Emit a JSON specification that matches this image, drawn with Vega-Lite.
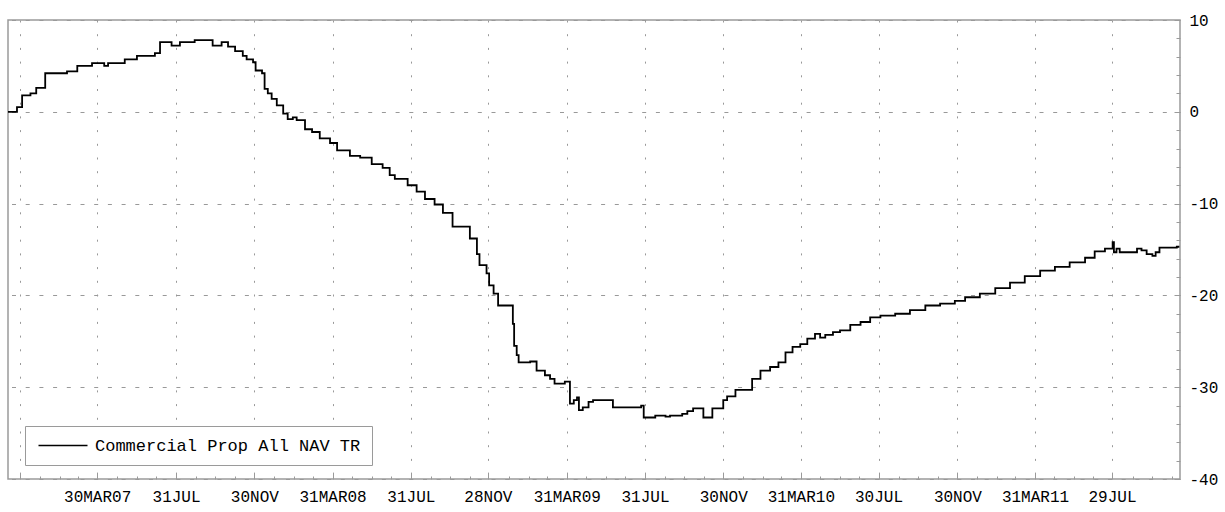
{
  "$schema": "https://vega.github.io/schema/vega-lite/v6.json",
  "width": 1172,
  "height": 459,
  "autosize": {"type": "none"},
  "padding": {"left": 8, "top": 20, "right": 45, "bottom": 33},
  "background": "white",
  "config": {"view": {"stroke": "#9a9a9a", "strokeWidth": 1.5}, "font": "Liberation Mono"},
  "data": {"values": [
    {"d": "2006-11-11", "v": 0.0}, {"d": "2006-11-25", "v": 0.5}, {"d": "2006-12-03", "v": 1.8}, {"d": "2006-12-16", "v": 2.0},
    {"d": "2006-12-25", "v": 2.6}, {"d": "2007-01-08", "v": 4.2}, {"d": "2007-02-11", "v": 4.4}, {"d": "2007-02-27", "v": 5.0},
    {"d": "2007-03-22", "v": 5.3}, {"d": "2007-04-10", "v": 5.0}, {"d": "2007-04-16", "v": 5.3}, {"d": "2007-05-12", "v": 5.7},
    {"d": "2007-05-31", "v": 6.1}, {"d": "2007-06-28", "v": 6.4}, {"d": "2007-07-06", "v": 7.6}, {"d": "2007-07-24", "v": 7.2},
    {"d": "2007-08-06", "v": 7.6}, {"d": "2007-08-29", "v": 7.8}, {"d": "2007-09-26", "v": 7.2}, {"d": "2007-10-10", "v": 7.6},
    {"d": "2007-10-20", "v": 7.1}, {"d": "2007-10-31", "v": 6.6}, {"d": "2007-11-12", "v": 6.1}, {"d": "2007-11-18", "v": 5.7},
    {"d": "2007-11-28", "v": 5.4}, {"d": "2007-12-02", "v": 4.5}, {"d": "2007-12-12", "v": 4.2}, {"d": "2007-12-16", "v": 2.5},
    {"d": "2007-12-21", "v": 2.0}, {"d": "2007-12-27", "v": 1.4}, {"d": "2008-01-04", "v": 0.7}, {"d": "2008-01-14", "v": -0.2},
    {"d": "2008-01-21", "v": -0.8}, {"d": "2008-01-29", "v": -0.6}, {"d": "2008-02-04", "v": -0.9}, {"d": "2008-02-17", "v": -1.9},
    {"d": "2008-02-28", "v": -2.2}, {"d": "2008-03-11", "v": -2.9}, {"d": "2008-03-27", "v": -3.4}, {"d": "2008-04-07", "v": -4.2},
    {"d": "2008-04-27", "v": -4.8}, {"d": "2008-05-13", "v": -5.0}, {"d": "2008-05-31", "v": -5.7}, {"d": "2008-06-17", "v": -6.1},
    {"d": "2008-06-28", "v": -6.9}, {"d": "2008-07-06", "v": -7.3}, {"d": "2008-07-26", "v": -8.0}, {"d": "2008-08-09", "v": -8.7},
    {"d": "2008-08-22", "v": -9.5}, {"d": "2008-09-06", "v": -10.1}, {"d": "2008-09-19", "v": -11.0}, {"d": "2008-10-04", "v": -12.5},
    {"d": "2008-10-31", "v": -13.8}, {"d": "2008-11-11", "v": -15.5}, {"d": "2008-11-15", "v": -16.7}, {"d": "2008-11-26", "v": -17.6},
    {"d": "2008-11-30", "v": -18.9}, {"d": "2008-12-07", "v": -19.8}, {"d": "2008-12-14", "v": -21.1}, {"d": "2009-01-06", "v": -23.1},
    {"d": "2009-01-08", "v": -25.5}, {"d": "2009-01-12", "v": -26.5}, {"d": "2009-01-15", "v": -27.3}, {"d": "2009-02-02", "v": -27.2},
    {"d": "2009-02-12", "v": -28.2}, {"d": "2009-02-25", "v": -28.7}, {"d": "2009-03-05", "v": -29.1}, {"d": "2009-03-12", "v": -29.6},
    {"d": "2009-03-28", "v": -29.4}, {"d": "2009-04-05", "v": -31.8}, {"d": "2009-04-11", "v": -31.4}, {"d": "2009-04-16", "v": -31.1},
    {"d": "2009-04-19", "v": -32.5}, {"d": "2009-04-25", "v": -32.2}, {"d": "2009-05-04", "v": -31.6}, {"d": "2009-05-11", "v": -31.4},
    {"d": "2009-06-11", "v": -32.2}, {"d": "2009-07-25", "v": -32.0}, {"d": "2009-07-29", "v": -33.3}, {"d": "2009-08-16", "v": -33.1},
    {"d": "2009-09-01", "v": -33.2}, {"d": "2009-09-08", "v": -33.1}, {"d": "2009-09-27", "v": -32.9}, {"d": "2009-10-05", "v": -32.6},
    {"d": "2009-10-14", "v": -32.3}, {"d": "2009-10-30", "v": -33.3}, {"d": "2009-11-13", "v": -32.3}, {"d": "2009-11-30", "v": -31.4},
    {"d": "2009-12-06", "v": -31.0}, {"d": "2009-12-19", "v": -30.3}, {"d": "2010-01-14", "v": -29.1}, {"d": "2010-01-27", "v": -28.2},
    {"d": "2010-02-11", "v": -27.8}, {"d": "2010-02-24", "v": -27.3}, {"d": "2010-03-07", "v": -26.2}, {"d": "2010-03-18", "v": -25.6},
    {"d": "2010-03-30", "v": -25.3}, {"d": "2010-04-10", "v": -24.7}, {"d": "2010-04-22", "v": -24.2}, {"d": "2010-04-30", "v": -24.6},
    {"d": "2010-05-08", "v": -24.3}, {"d": "2010-05-20", "v": -24.0}, {"d": "2010-05-31", "v": -23.8}, {"d": "2010-06-16", "v": -23.2},
    {"d": "2010-07-02", "v": -22.9}, {"d": "2010-07-17", "v": -22.4}, {"d": "2010-08-02", "v": -22.2}, {"d": "2010-08-25", "v": -22.0},
    {"d": "2010-09-17", "v": -21.6}, {"d": "2010-10-11", "v": -21.1}, {"d": "2010-11-03", "v": -20.9}, {"d": "2010-11-26", "v": -20.6},
    {"d": "2010-12-12", "v": -20.2}, {"d": "2011-01-04", "v": -19.8}, {"d": "2011-01-28", "v": -19.2}, {"d": "2011-02-20", "v": -18.6},
    {"d": "2011-03-15", "v": -17.9}, {"d": "2011-04-08", "v": -17.3}, {"d": "2011-05-01", "v": -16.9}, {"d": "2011-05-24", "v": -16.4},
    {"d": "2011-06-17", "v": -15.9}, {"d": "2011-07-02", "v": -15.2}, {"d": "2011-07-18", "v": -14.9}, {"d": "2011-07-30", "v": -14.2},
    {"d": "2011-08-01", "v": -15.3}, {"d": "2011-08-05", "v": -14.9}, {"d": "2011-08-10", "v": -15.3}, {"d": "2011-09-06", "v": -14.9},
    {"d": "2011-09-13", "v": -15.1}, {"d": "2011-09-21", "v": -15.5}, {"d": "2011-09-30", "v": -15.7}, {"d": "2011-10-05", "v": -15.3},
    {"d": "2011-10-11", "v": -14.8}, {"d": "2011-11-07", "v": -14.7}, {"d": "2011-11-11", "v": -14.7}
  ]},
  "mark": {"type": "line", "interpolate": "step-after", "strokeWidth": 1.8},
  "encoding": {
    "x": {
      "field": "d", "type": "temporal",
      "scale": {"type": "utc", "domain": [{"year": 2006, "month": 11, "date": 11, "utc": true}, {"year": 2011, "month": 11, "date": 12, "utc": true}]},
      "axis": {
        "title": null,
        "values": [
          {"year": 2006, "month": 11, "date": 30, "utc": true}, {"year": 2006, "month": 12, "date": 31, "utc": true},
          {"year": 2007, "month": 1, "date": 31, "utc": true}, {"year": 2007, "month": 2, "date": 28, "utc": true}, {"year": 2007, "month": 3, "date": 30, "utc": true},
          {"year": 2007, "month": 4, "date": 30, "utc": true}, {"year": 2007, "month": 5, "date": 31, "utc": true}, {"year": 2007, "month": 6, "date": 30, "utc": true},
          {"year": 2007, "month": 7, "date": 31, "utc": true}, {"year": 2007, "month": 8, "date": 31, "utc": true}, {"year": 2007, "month": 9, "date": 30, "utc": true},
          {"year": 2007, "month": 10, "date": 31, "utc": true}, {"year": 2007, "month": 11, "date": 30, "utc": true}, {"year": 2007, "month": 12, "date": 31, "utc": true},
          {"year": 2008, "month": 1, "date": 31, "utc": true}, {"year": 2008, "month": 2, "date": 29, "utc": true}, {"year": 2008, "month": 3, "date": 31, "utc": true},
          {"year": 2008, "month": 4, "date": 30, "utc": true}, {"year": 2008, "month": 5, "date": 31, "utc": true}, {"year": 2008, "month": 6, "date": 30, "utc": true},
          {"year": 2008, "month": 7, "date": 31, "utc": true}, {"year": 2008, "month": 8, "date": 31, "utc": true}, {"year": 2008, "month": 9, "date": 30, "utc": true},
          {"year": 2008, "month": 10, "date": 31, "utc": true}, {"year": 2008, "month": 11, "date": 28, "utc": true}, {"year": 2008, "month": 12, "date": 31, "utc": true},
          {"year": 2009, "month": 1, "date": 31, "utc": true}, {"year": 2009, "month": 2, "date": 28, "utc": true}, {"year": 2009, "month": 3, "date": 31, "utc": true},
          {"year": 2009, "month": 4, "date": 30, "utc": true}, {"year": 2009, "month": 5, "date": 31, "utc": true}, {"year": 2009, "month": 6, "date": 30, "utc": true},
          {"year": 2009, "month": 7, "date": 31, "utc": true}, {"year": 2009, "month": 8, "date": 31, "utc": true}, {"year": 2009, "month": 9, "date": 30, "utc": true},
          {"year": 2009, "month": 10, "date": 31, "utc": true}, {"year": 2009, "month": 11, "date": 30, "utc": true}, {"year": 2009, "month": 12, "date": 31, "utc": true},
          {"year": 2010, "month": 1, "date": 31, "utc": true}, {"year": 2010, "month": 2, "date": 28, "utc": true}, {"year": 2010, "month": 3, "date": 31, "utc": true},
          {"year": 2010, "month": 4, "date": 30, "utc": true}, {"year": 2010, "month": 5, "date": 31, "utc": true}, {"year": 2010, "month": 6, "date": 30, "utc": true},
          {"year": 2010, "month": 7, "date": 30, "utc": true}, {"year": 2010, "month": 8, "date": 31, "utc": true}, {"year": 2010, "month": 9, "date": 30, "utc": true},
          {"year": 2010, "month": 10, "date": 31, "utc": true}, {"year": 2010, "month": 11, "date": 30, "utc": true}, {"year": 2010, "month": 12, "date": 31, "utc": true},
          {"year": 2011, "month": 1, "date": 31, "utc": true}, {"year": 2011, "month": 2, "date": 28, "utc": true}, {"year": 2011, "month": 3, "date": 31, "utc": true},
          {"year": 2011, "month": 4, "date": 30, "utc": true}, {"year": 2011, "month": 5, "date": 31, "utc": true}, {"year": 2011, "month": 6, "date": 30, "utc": true},
          {"year": 2011, "month": 7, "date": 29, "utc": true}, {"year": 2011, "month": 8, "date": 31, "utc": true}, {"year": 2011, "month": 9, "date": 30, "utc": true},
          {"year": 2011, "month": 10, "date": 31, "utc": true}
        ],
        "labelExpr": "(utcyear(datum.value) < 2007 || utcmonth(datum.value) % 4 != 2) ? '' : upper(utcFormat(datum.value, utcmonth(datum.value) == 2 ? '%d%b%y' : '%d%b'))",
        "labelOverlap": false,
        "labelFont": "Liberation Mono",
        "labelFontSize": 16,
        "labelColor": "#000000",
        "labelPadding": 15,
        "labelFlush": false,
        "domain": false,
        "tickColor": "#9a9a9a",
        "tickSize": {"condition": {"test": "utcmonth(datum.value) % 4 == 2", "value": -6}, "value": -3},
        "grid": true,
        "gridColor": "#999999",
        "gridDash": [2, 11.7],
        "gridOpacity": {"condition": {"test": "utcmonth(datum.value) % 4 == 2", "value": 1}, "value": 0}
      }
    },
    "y": {
      "field": "v", "type": "quantitative",
      "scale": {"domain": [-40, 10], "nice": false, "zero": false},
      "axis": {
        "orient": "right",
        "title": null,
        "values": [-40, -38, -36, -34, -32, -30, -28, -26, -24, -22, -20, -18, -16, -14, -12, -10, -8, -6, -4, -2, 0, 2, 4, 6, 8, 10],
        "labelExpr": "datum.value % 10 == 0 ? '' + datum.value : ''",
        "labelOverlap": false,
        "labelFont": "Liberation Mono",
        "labelFontSize": 16,
        "labelColor": "#000000",
        "labelPadding": 15,
        "labelFlush": false,
        "domain": false,
        "tickColor": "#9a9a9a",
        "tickSize": {"condition": {"test": "datum.value % 10 == 0", "value": -6}, "value": -4},
        "grid": true,
        "gridColor": "#999999",
        "gridDash": [4, 9.7],
        "gridOpacity": {"condition": {"test": "datum.value % 10 == 0", "value": 1}, "value": 0}
      }
    },
    "color": {
      "datum": "Commercial Prop All NAV TR",
      "scale": {"range": ["#000000"]},
      "legend": {
        "title": null,
        "orient": "none",
        "legendX": 17,
        "legendY": 406,
        "symbolType": "M-1.2,0H8.6",
        "symbolSize": 100,
        "symbolStrokeWidth": 1.5,
        "labelFont": "Liberation Mono",
        "labelFontSize": 17,
        "labelLimit": 500,
        "labelColor": "#000000",
        "labelOffset": 42,
        "strokeColor": "#9a9a9a",
        "fillColor": "#ffffff",
        "padding": 11
      }
    }
  }
}
